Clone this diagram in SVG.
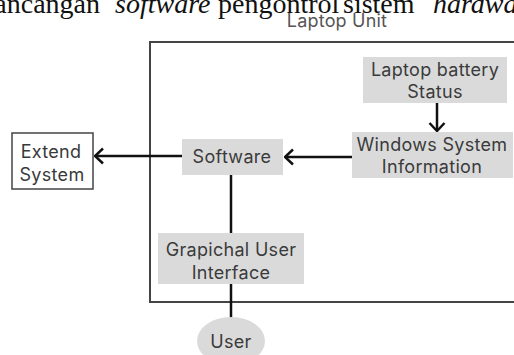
<svg xmlns="http://www.w3.org/2000/svg" width="514" height="355" viewBox="0 0 514 355">
  <style>
    .caption { font-family: "Liberation Serif", "Times New Roman", serif; font-size: 28px; fill: #111; }
    .it { font-style: italic; }
    .label { font-family: Inter, "Noto Sans", "Liberation Sans", sans-serif; font-size: 18px; letter-spacing: 0.3px; fill: #3a3a3a; text-anchor: middle; }
    .title { font-family: Inter, "Noto Sans", "Liberation Sans", sans-serif; font-size: 18px; letter-spacing: 0.2px; fill: #555; text-anchor: middle; }
    .proc { fill: #dadada; stroke: none; }
    .ext { fill: #fff; stroke: #444; stroke-width: 1.5; }
    .frame { fill: none; stroke: #444; stroke-width: 2; }
    .conn { fill: none; stroke: #111; stroke-width: 2.5; }
  </style>
  <defs>
    <marker id="chevron" viewBox="0 0 11 18" refX="9.5" refY="9" markerWidth="11" markerHeight="18" markerUnits="userSpaceOnUse" orient="auto">
      <path d="M1.5,1.5 L9.5,9 L1.5,16.5" fill="none" stroke="#111" stroke-width="2.5"/>
    </marker>
  </defs>

  <rect width="514" height="355" fill="#fff"/>

  <!-- running caption line above the figure -->
  <text class="caption" y="13"><tspan x="100" text-anchor="end">rancangan</tspan><tspan class="it" x="115">software</tspan><tspan x="218">pengontrol</tspan><tspan x="343">sistem</tspan><tspan class="it" x="433">hardware</tspan></text>

  <!-- enclosing laptop unit boundary -->
  <g id="laptop-unit">
    <text class="title" x="337" y="27">Laptop Unit</text>
    <rect class="frame" x="150" y="42" width="380" height="260"/>
  </g>

  <g id="connectors">
    <line class="conn" x1="437" y1="103" x2="437" y2="131" marker-end="url(#chevron)"/>
    <line class="conn" x1="352" y1="157" x2="285" y2="157" marker-end="url(#chevron)"/>
    <line class="conn" x1="182" y1="156" x2="95" y2="156" marker-end="url(#chevron)"/>
    <line class="conn" x1="231" y1="175" x2="231" y2="233"/>
    <line class="conn" x1="231" y1="284" x2="231" y2="318"/>
  </g>

  <g id="battery-status">
    <rect class="proc" x="363" y="57" width="144" height="46"/>
    <text class="label" x="435" y="76">Laptop battery</text>
    <text class="label" x="435" y="98">Status</text>
  </g>

  <g id="windows-info">
    <rect class="proc" x="352" y="132" width="161" height="46"/>
    <text class="label" x="432" y="151">Windows System</text>
    <text class="label" x="432" y="173">Information</text>
  </g>

  <g id="software">
    <rect class="proc" x="182" y="139" width="101" height="36"/>
    <text class="label" x="232" y="163">Software</text>
  </g>

  <g id="extend-system">
    <rect class="ext" x="12" y="133" width="81" height="56"/>
    <text class="label" x="51" y="158">Extend</text>
    <text class="label" x="52" y="181">System</text>
  </g>

  <g id="gui">
    <rect class="proc" x="158" y="233" width="146" height="51"/>
    <text class="label" x="231" y="256">Grapichal User</text>
    <text class="label" x="231" y="279">Interface</text>
  </g>

  <g id="user">
    <ellipse class="proc" cx="231" cy="341" rx="34" ry="24"/>
    <text class="label" x="231" y="348">User</text>
  </g>
</svg>
